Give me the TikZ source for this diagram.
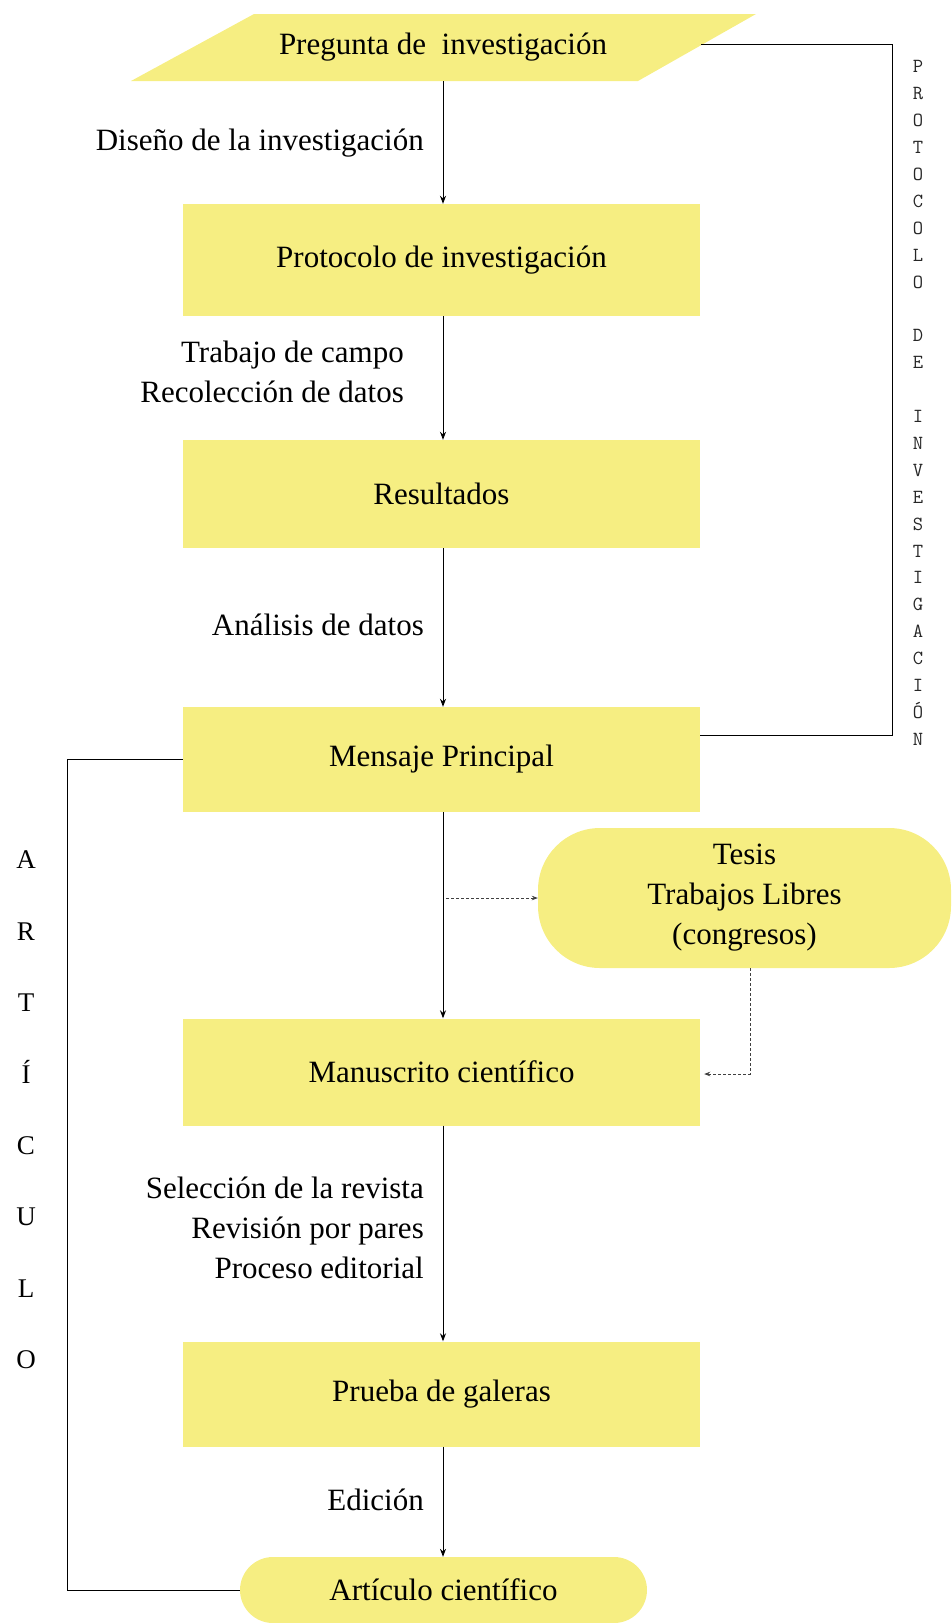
\documentclass[tikz,border=0pt]{standalone}
\usepackage{fontspec}
\setmainfont{Liberation Serif}
\usetikzlibrary{arrows.meta,calc}
\definecolor{yfill}{RGB}{246,238,130}
\begin{document}
\begin{tikzpicture}[x=1pt,y=-1pt,
  box/.style={fill=yfill, draw=none, minimum width=517pt, inner sep=0pt, font=\fontsize{31}{40}\selectfont},
  lbl/.style={anchor=east, align=right, inner sep=0pt, font=\fontsize{31}{40}\selectfont},
  arr/.style={draw=black, line width=0.9pt, -{Stealth[length=8pt,width=6pt]}},
  conn/.style={draw=black, line width=0.9pt},
  darr/.style={draw=black!75, line width=0.8pt, dash pattern=on 3pt off 2pt, -{Stealth[length=6pt,width=4.5pt]}}
]
\useasboundingbox (0,0) rectangle (951,1623);
% parallelogram
\fill[yfill] (131,81) -- (254,14) -- (756,14) -- (638,81) -- cycle;
\node[minimum width=516pt, minimum height=67pt, inner sep=0pt, font=\fontsize{31}{40}\selectfont] (preg) at (443,47.5) {Pregunta de\ \ investigación};
\node[box, minimum height=112pt] (prot) at (441.5,260) {Protocolo de investigación};
\node[box, minimum height=108pt] (res) at (441.5,494) {Resultados};
\node[box, minimum height=105pt] (mens) at (441.5,759.5) {Mensaje Principal};
\node[box, minimum height=107pt] (manu) at (441.5,1072) {Manuscrito científico};
\node[box, minimum height=105pt] (prue) at (441.5,1394) {Prueba de galeras};
\node[fill=yfill, minimum width=413pt, minimum height=140pt, rounded corners=62pt, inner sep=0pt, align=center, font=\fontsize{31}{40}\selectfont] (tesis) at (744.5,898) {\raisebox{-4pt}{Tesis}\\\raisebox{-4pt}{Trabajos Libres}\\\raisebox{-4pt}{(congresos)}};
\node[fill=yfill, minimum width=407pt, minimum height=66pt, rounded corners=33pt, inner sep=0pt, font=\fontsize{31}{40}\selectfont] (art) at (443.5,1590) {Artículo científico};
% labels
\node[lbl] (l1) at (424,143) {Diseño de la investigación};
\node[lbl] (l2) at (404,371.5) {Trabajo de campo\\Recolección de datos};
\node[lbl] (l3) at (424,625) {Análisis de datos};
\node[lbl] (l4) at (424,1228) {Selección de la revista\\Revisión por pares\\Proceso editorial};
\node[lbl] (l5) at (424,1500) {Edición};
% main arrows
\draw[arr] (preg.south) -- (preg.south |- prot.north);
\draw[arr] (preg.south |- prot.south) -- (preg.south |- res.north);
\draw[arr] (preg.south |- res.south) -- (preg.south |- mens.north);
\draw[arr] (preg.south |- mens.south) -- (preg.south |- manu.north);
\draw[arr] (preg.south |- manu.south) -- (preg.south |- prue.north);
\draw[arr] (preg.south |- prue.south) -- (preg.south |- art.north);
% loops
\coordinate (rc) at (892,44);
\coordinate (lc) at (67,759.5);
\draw[conn] ([yshift=3.5pt]preg.east) -- (rc) |- ([yshift=24pt]mens.east);
\draw[conn] (mens.west) -- (lc) |- (art.west);
% dashed
\coordinate (d1) at (446,898);
\draw[darr] (d1) -- (tesis.west);
\draw[darr] ([xshift=5.5pt]tesis.south) |- ([xshift=4pt,yshift=-2pt]manu.east);
% vertical texts
\node[align=center, inner sep=0pt, text=black!85, font=\ttfamily\fontsize{20}{26.9}\selectfont] (vt) at (918,403) {P\\R\\O\\T\\O\\C\\O\\L\\O\\\mbox{}\\D\\E\\\mbox{}\\I\\N\\V\\E\\S\\T\\I\\G\\A\\C\\I\\Ó\\N};
\node[align=center, inner sep=0pt, font=\fontsize{27}{71.4}\selectfont] (va) at (26,1110) {A\\R\\T\\Í\\C\\U\\L\\O};
\end{tikzpicture}
\end{document}
